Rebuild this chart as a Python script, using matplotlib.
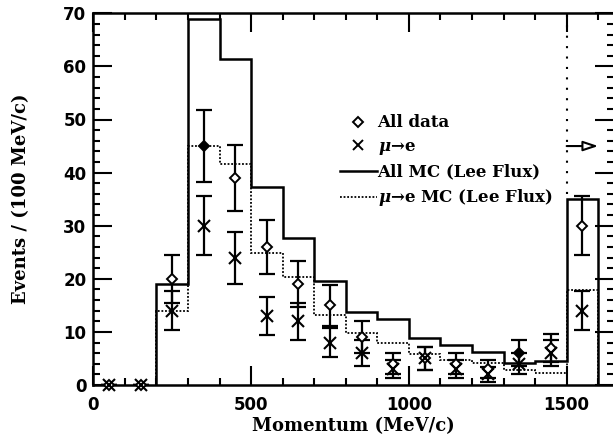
import numpy as np
import matplotlib
matplotlib.use("Agg")
import matplotlib.pyplot as plt
from matplotlib.ticker import MultipleLocator

# histogram bin edges (MeV/c) and MC expectations
edges = [200, 300, 400, 500, 600, 700, 800, 900, 1000, 1100, 1200, 1300, 1400, 1500, 1600]
mc_all = [19, 69, 61.3, 37.2, 27.6, 19.6, 13.8, 12.4, 8.8, 7.5, 6.3, 4.2, 4.6, 35]
mc_mue = [14, 45, 41.7, 24.8, 20.4, 13.2, 9.7, 8.0, 5.8, 4.8, 4.2, 2.8, 2.2, 17.8]

# data points at bin centres
centres = [50, 150, 250, 350, 450, 550, 650, 750, 850, 950, 1050, 1150, 1250, 1350, 1450, 1550]
all_data = [0, 0, 20, 45, 39, 26, 19, 15, 9, 4, 5, 4, 3, 6, 7, 30]
all_err = [0, 0, 4.5, 6.7, 6.2, 5.1, 4.4, 3.9, 3.0, 2.0, 2.2, 2.0, 1.7, 2.4, 2.6, 5.5]
all_filled = [False, False, False, True, False, False, False, False, False, False, False, False, False, True, False, False]
mue_data = [0, 0, 14, 30, 24, 13, 12, 8, 6, 3, 5, 3, 2, 4, 6, 14]
mue_err = [0, 0, 3.7, 5.5, 4.9, 3.6, 3.5, 2.8, 2.4, 1.7, 2.2, 1.7, 1.4, 2.0, 2.4, 3.7]

# overflow marker
overflow_start = 1500
overflow_end = 1600
overflow_top = 36
arrow_level = 45

plt.rcParams["font.family"] = ["DejaVu Serif"]
plt.rcParams["font.weight"] = "bold"
plt.rcParams["mathtext.fontset"] = "dejavuserif"
plt.rcParams["mathtext.default"] = "it"

fig = plt.figure(figsize=(6.13, 4.42), dpi=100)
ax = fig.add_axes([93.3 / 613, 57 / 442, 520.7 / 613, 371.7 / 442])

ax.stairs(mc_all, edges, color="black", lw=1.8)
ax.stairs(mc_mue, edges, color="black", lw=1.3, ls=(0, (1, 1.0)))

ax.errorbar(centres, all_data, yerr=all_err, fmt="none", ecolor="black",
            elinewidth=1.6, capsize=6, capthick=1.6, zorder=3)
ax.errorbar(centres, mue_data, yerr=mue_err, fmt="none", ecolor="black",
            elinewidth=1.6, capsize=6, capthick=1.6, zorder=3)

x_arr = np.array(centres)
d_arr = np.array(all_data)
f_arr = np.array(all_filled)
ax.plot(x_arr[~f_arr], d_arr[~f_arr], ls="none", marker="D", ms=5.5,
        mfc="white", mec="black", mew=1.4, zorder=4, clip_on=False)
ax.plot(x_arr[f_arr], d_arr[f_arr], ls="none", marker="D", ms=5.5,
        mfc="black", mec="black", mew=1.4, zorder=4)
ax.plot(centres, mue_data, ls="none", marker="x", ms=8, mec="black", mew=1.5,
        zorder=5, clip_on=False)

# legend proxies
h_d, = ax.plot([], [], ls="none", marker="D", ms=5, mfc="white", mec="black", mew=1.4)
h_x, = ax.plot([], [], ls="none", marker="x", ms=7, mec="black", mew=1.4)
h_l, = ax.plot([], [], color="black", lw=1.8)
h_m, = ax.plot([], [], color="black", lw=1.3, ls=(0, (1, 1.0)))
ax.legend([h_d, h_x, h_l, h_m],
          ["All data", r"$\mu$→e", "All MC (Lee Flux)", r"$\mu$→e MC (Lee Flux)"],
          loc="upper left", bbox_to_anchor=(0.474, 0.728), frameon=False,
          handlelength=2.2, handletextpad=0.05, labelspacing=0.4, borderpad=0,
          borderaxespad=0, fontsize=12)

# overflow indicator
ax.plot([overflow_start, overflow_start], [overflow_top, 70], color="black",
        lw=1.5, ls=(0, (1, 4)))
ax.annotate("", xy=(overflow_end, arrow_level), xytext=(overflow_start, arrow_level),
            arrowprops=dict(arrowstyle="-|>,head_length=0.9,head_width=0.3",
                            fc="white", ec="black", lw=1.5, shrinkA=0, shrinkB=0))

ax.set_xlim(0, 1650)
ax.set_ylim(0, 70)
ax.xaxis.set_major_locator(MultipleLocator(500))
ax.xaxis.set_minor_locator(MultipleLocator(100))
ax.yaxis.set_major_locator(MultipleLocator(10))
ax.yaxis.set_minor_locator(MultipleLocator(2))
ax.tick_params(which="both", direction="in", top=True, right=True, width=1.5,
               labelsize=12, pad=5)
ax.tick_params(axis="x", which="major", pad=8)
ax.tick_params(which="major", length=14)
ax.tick_params(which="minor", length=5)
for lab in ax.get_xticklabels() + ax.get_yticklabels():
    lab.set_family("DejaVu Sans")
    lab.set_weight("bold")
for sp in ax.spines.values():
    sp.set_linewidth(1.8)

ax.set_xlabel("Momentum (MeV/c)", fontsize=13, fontweight="bold", labelpad=2)
ax.set_ylabel("Events / (100 MeV/c)", fontsize=13, fontweight="bold", labelpad=24)

fig.savefig("out.png", dpi=100)
